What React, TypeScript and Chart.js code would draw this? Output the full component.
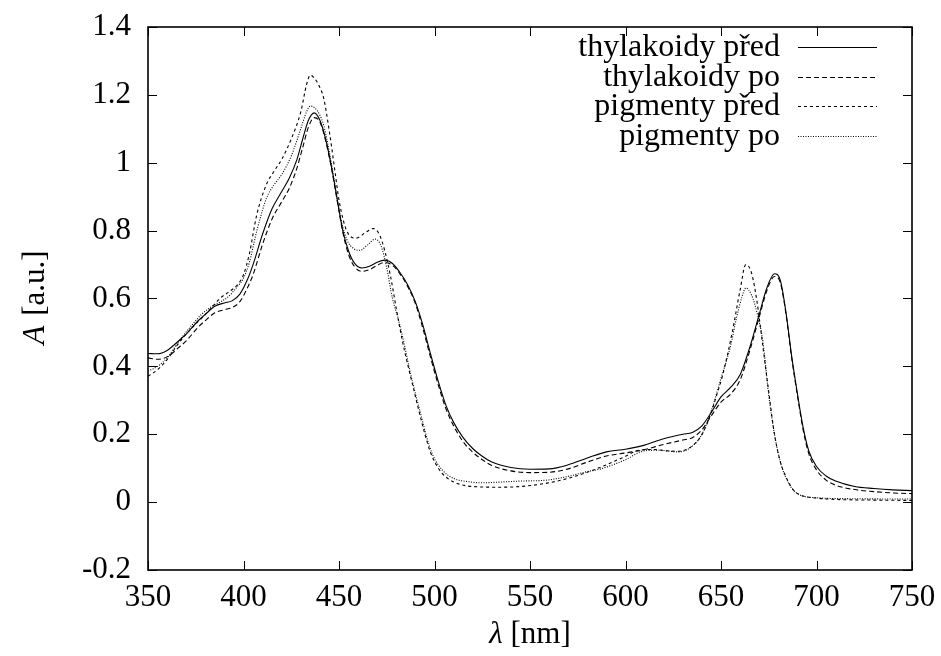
import React, { useEffect, useRef } from "react";
import { Chart, registerables } from "chart.js";

Chart.register(...registerables);

// ---- tick marks / labels ----
const xTickValues = [350, 400, 450, 500, 550, 600, 650, 700, 750];
const xTickLabels = ["350", "400", "450", "500", "550", "600", "650", "700", "750"];
const yTickValues = [-0.2, 0, 0.2, 0.4, 0.6, 0.8, 1, 1.2, 1.4];
const yTickLabels = ["-0.2", "0", "0.2", "0.4", "0.6", "0.8", "1", "1.2", "1.4"];

const xAxisTitleItalic = "λ";
const xAxisTitleRest = " [nm]";
const yAxisTitleItalic = "A";
const yAxisTitleRest = " [a.u.]";

// ---- series names ----
const seriesNames = ["thylakoidy před", "thylakoidy po", "pigmenty před", "pigmenty po"];

// ---- thylakoidy (shared wavelength grid) ----
const thylWavelengths = [
  350, 355, 360, 367, 370, 376, 380, 385, 390, 394, 398, 402, 405, 410, 415, 420, 424, 428, 431, 434,
  437, 440, 443, 446, 449, 452, 455, 458, 462, 466, 470, 474, 478, 482, 486, 490, 494, 498, 502, 506,
  510, 515, 520, 525, 530, 540, 550, 560, 570, 580, 590, 600, 610, 620, 630, 635, 640, 645, 650, 655,
  660, 665, 670, 674, 678, 681, 684, 687, 690, 693, 696, 700, 705, 710, 720, 730, 740, 750,
];
const thylPred = [
  0.438, 0.437, 0.447, 0.48, 0.495, 0.533, 0.553, 0.577, 0.587, 0.593, 0.612, 0.655, 0.7, 0.79, 0.865, 0.915, 0.955, 1.01, 1.07, 1.125,
  1.147, 1.125, 1.07, 0.99, 0.895, 0.8, 0.74, 0.705, 0.69, 0.695, 0.707, 0.713, 0.703, 0.676, 0.64, 0.59, 0.52, 0.435, 0.355, 0.285,
  0.235, 0.19, 0.158, 0.135, 0.118, 0.102, 0.097, 0.098, 0.11, 0.13, 0.148, 0.156, 0.168, 0.187, 0.2, 0.205, 0.225, 0.265, 0.31, 0.338,
  0.375, 0.455, 0.553, 0.631, 0.673, 0.655, 0.56, 0.43, 0.32, 0.22, 0.15, 0.105, 0.077, 0.062, 0.046, 0.04, 0.036, 0.034,
];
const thylPo = [
  0.425, 0.421, 0.428, 0.46, 0.475, 0.514, 0.535, 0.558, 0.567, 0.573, 0.59, 0.631, 0.67, 0.76, 0.835, 0.885, 0.925, 0.985, 1.045, 1.105,
  1.133, 1.12, 1.065, 0.985, 0.89, 0.795, 0.73, 0.695, 0.68, 0.685, 0.698, 0.706, 0.698, 0.672, 0.635, 0.585, 0.51, 0.425, 0.345, 0.275,
  0.225, 0.178, 0.147, 0.125, 0.108, 0.092, 0.087, 0.088, 0.098, 0.118, 0.136, 0.145, 0.155, 0.17, 0.183, 0.19, 0.213, 0.255, 0.295, 0.318,
  0.36, 0.445, 0.545, 0.623, 0.665, 0.648, 0.555, 0.425, 0.315, 0.213, 0.142, 0.095, 0.065, 0.05, 0.037, 0.031, 0.027, 0.025,
];

// ---- pigmenty před ----
const pigPredWavelengths = [
  350, 355, 360, 365, 369, 375, 380, 384, 388, 392, 397, 400, 403, 407, 412, 416, 420, 425, 430, 433,
  435, 437, 440, 442, 445, 448, 450, 454, 459, 464, 468, 471, 474, 477, 480, 483, 486, 489, 492, 495,
  498, 502, 506, 513, 520, 534, 545, 559, 570, 580, 587, 600, 607, 615, 622, 628, 634, 639, 643, 648,
  651, 656, 660, 663, 666, 669, 672, 675, 678, 681, 684, 688, 692, 700, 710, 730, 750,
];
const pigPred = [
  0.371, 0.39, 0.42, 0.46, 0.489, 0.525, 0.553, 0.578, 0.602, 0.618, 0.642, 0.67, 0.73, 0.848, 0.936, 0.975, 1.01, 1.07, 1.15, 1.23,
  1.258, 1.25, 1.222, 1.19, 1.09, 0.97, 0.89, 0.8, 0.778, 0.795, 0.806, 0.79, 0.74, 0.665, 0.57, 0.48, 0.405, 0.335, 0.265, 0.2,
  0.145, 0.1, 0.074, 0.053, 0.046, 0.044, 0.046, 0.056, 0.07, 0.088, 0.103, 0.135, 0.153, 0.155, 0.151, 0.15, 0.162, 0.19, 0.235, 0.32,
  0.377, 0.504, 0.625, 0.7, 0.675, 0.585, 0.455, 0.325, 0.2, 0.12, 0.075, 0.035, 0.02, 0.012, 0.008, 0.006, 0.005,
];

// ---- pigmenty po ----
const pigPoWavelengths = [
  350, 355, 360, 367, 372, 378, 383, 388, 392, 396, 400, 403, 407, 412, 416, 420, 425, 430, 433, 435,
  437, 440, 442, 445, 448, 450, 454, 458, 461, 465, 469, 472, 475, 478, 481, 484, 487, 490, 493, 496,
  499, 504, 510, 518, 525, 534, 545, 559, 570, 580, 587, 600, 609, 617, 628, 635, 640, 645, 650, 655,
  658, 661, 663, 666, 669, 672, 675, 678, 681, 685, 690, 700, 720, 750,
];
const pigPo = [
  0.386, 0.4, 0.425, 0.48, 0.515, 0.553, 0.575, 0.59, 0.605, 0.63, 0.66, 0.705, 0.8, 0.895, 0.935, 0.965, 1.02, 1.1, 1.15, 1.167,
  1.163, 1.14, 1.11, 1.03, 0.93, 0.86, 0.775, 0.746, 0.742, 0.758, 0.775, 0.755, 0.69, 0.6, 0.54, 0.47, 0.39, 0.32, 0.255, 0.19,
  0.14, 0.095, 0.07, 0.06, 0.057, 0.059, 0.062, 0.065, 0.076, 0.09, 0.098, 0.125, 0.15, 0.153, 0.148, 0.165, 0.2, 0.27, 0.365, 0.46,
  0.54, 0.605, 0.631, 0.61, 0.555, 0.47, 0.315, 0.2, 0.12, 0.06, 0.025, 0.013, 0.01, 0.009,
];

const FONT_FAMILY = '"Liberation Serif", "Times New Roman", serif';
const TICK_FONT_SIZE = 31;
const TITLE_FONT_SIZE = 31;
const LEGEND_FONT_SIZE = 32;

const dashPatterns: number[][] = [[], [5, 3], [3, 3], [1, 1.5]];
const lineColors = ["#000000", "#000000", "#000000", "#000000"];

function toPoints(xs: number[], ys: number[]) {
  return xs.map((x, i) => ({ x, y: ys[i] }));
}

const framePlugin = {
  id: "gnuplotFrame",
  afterDatasetsDraw(chart: any) {
    const { ctx, chartArea: a, scales } = chart;
    ctx.save();
    ctx.setLineDash([]);
    ctx.strokeStyle = "#000";
    // tick marks (inward, mirrored)
    const tl = 9;
    ctx.lineWidth = 1;
    ctx.beginPath();
    xTickValues.forEach((v) => {
      const px = Math.round(scales.x.getPixelForValue(v)) + 0.5;
      ctx.moveTo(px, a.bottom);
      ctx.lineTo(px, a.bottom - tl);
      ctx.moveTo(px, a.top);
      ctx.lineTo(px, a.top + tl);
    });
    yTickValues.forEach((v) => {
      const py = Math.round(scales.y.getPixelForValue(v)) + 0.5;
      ctx.moveTo(a.left, py);
      ctx.lineTo(a.left + tl, py);
      ctx.moveTo(a.right, py);
      ctx.lineTo(a.right - tl, py);
    });
    ctx.stroke();
    // frame
    ctx.lineWidth = 1.6;
    ctx.strokeRect(a.left, a.top, a.right - a.left, a.bottom - a.top);

    // legend
    const textRight = a.right - 132;
    const lineStart = a.right - 114;
    const lineEnd = a.right - 35;
    ctx.font = `${LEGEND_FONT_SIZE}px ${FONT_FAMILY}`;
    ctx.fillStyle = "#000";
    ctx.textAlign = "right";
    ctx.textBaseline = "middle";
    chart.data.datasets.forEach((ds: any, i: number) => {
      const y = a.top + 20 + i * 29.5;
      ctx.fillText(ds.label, textRight, y + 1);
      ctx.save();
      ctx.strokeStyle = ds.borderColor;
      ctx.lineWidth = ds.borderWidth;
      ctx.setLineDash(ds.borderDash || []);
      ctx.beginPath();
      ctx.moveTo(lineStart, Math.round(y) + 0.5);
      ctx.lineTo(lineEnd, Math.round(y) + 0.5);
      ctx.stroke();
      ctx.restore();
    });

    // axis titles
    const italic = `italic ${TITLE_FONT_SIZE}px ${FONT_FAMILY}`;
    const normal = `${TITLE_FONT_SIZE}px ${FONT_FAMILY}`;
    ctx.textAlign = "left";
    ctx.textBaseline = "middle";
    // x title
    ctx.font = italic;
    const wxi = ctx.measureText(xAxisTitleItalic).width;
    ctx.font = normal;
    const wxr = ctx.measureText(xAxisTitleRest).width;
    const cx = (a.left + a.right) / 2;
    const xStart = cx - (wxi + wxr) / 2;
    ctx.font = italic;
    ctx.fillText(xAxisTitleItalic, xStart, 635);
    ctx.font = normal;
    ctx.fillText(xAxisTitleRest, xStart + wxi, 635);
    // y title
    ctx.save();
    ctx.translate(36, (a.top + a.bottom) / 2);
    ctx.rotate(-Math.PI / 2);
    ctx.font = italic;
    const wyi = ctx.measureText(yAxisTitleItalic).width;
    ctx.font = normal;
    const wyr = ctx.measureText(yAxisTitleRest).width;
    const yStart = -(wyi + wyr) / 2;
    ctx.font = italic;
    ctx.fillText(yAxisTitleItalic, yStart, 0);
    ctx.font = normal;
    ctx.fillText(yAxisTitleRest, yStart + wyi + 2, 0);
    ctx.restore();

    ctx.restore();
  },
};

export default function App() {
  const canvasRef = useRef<HTMLCanvasElement | null>(null);

  useEffect(() => {
    const canvas = canvasRef.current;
    if (!canvas) return;
    const seriesX = [thylWavelengths, thylWavelengths, pigPredWavelengths, pigPoWavelengths];
    const seriesY = [thylPred, thylPo, pigPred, pigPo];
    const datasets = seriesNames.map((name, i) => ({
      label: name,
      data: toPoints(seriesX[i], seriesY[i]),
      borderColor: lineColors[i],
      borderWidth: 1.1,
      borderDash: dashPatterns[i],
      pointRadius: 0,
      fill: false,
      cubicInterpolationMode: "monotone" as const,
    }));

    const chart = new Chart(canvas, {
      type: "line",
      data: { datasets },
      options: {
        animation: false,
        responsive: false,
        maintainAspectRatio: false,
        layout: { padding: { top: 27, right: 29, left: 0, bottom: 0 } },
        plugins: {
          legend: { display: false },
          tooltip: { enabled: false },
        },
        scales: {
          x: {
            type: "linear",
            min: 350,
            max: 750,
            grid: { display: false, drawTicks: false },
            border: { display: false },
            afterFit: (scale: any) => {
              scale.height = 86;
              scale.paddingLeft = 0;
              scale.paddingRight = 0;
            },
            afterBuildTicks: (axis: any) => {
              axis.ticks = xTickValues.map((v) => ({ value: v }));
            },
            ticks: {
              padding: 9,
              color: "#000",
              maxRotation: 0,
              autoSkip: false,
              font: { family: FONT_FAMILY, size: TICK_FONT_SIZE },
              callback: (v: any) => {
                const idx = xTickValues.indexOf(Number(v));
                return idx >= 0 ? xTickLabels[idx] : "";
              },
            },
          },
          y: {
            type: "linear",
            min: -0.2,
            max: 1.4,
            grid: { display: false, drawTicks: false },
            border: { display: false },
            afterFit: (scale: any) => {
              scale.width = 148;
              scale.paddingTop = 0;
              scale.paddingBottom = 0;
            },
            afterBuildTicks: (axis: any) => {
              axis.ticks = yTickValues.map((v) => ({ value: v }));
            },
            ticks: {
              padding: 17,
              color: "#000",
              autoSkip: false,
              font: { family: FONT_FAMILY, size: TICK_FONT_SIZE },
              callback: (v: any) => {
                const idx = yTickValues.findIndex((t) => Math.abs(t - Number(v)) < 1e-9);
                return idx >= 0 ? yTickLabels[idx] : "";
              },
            },
          },
        },
      },
      plugins: [framePlugin],
    });

    return () => {
      chart.destroy();
    };
  }, []);

  return (
    <div style={{ position: "absolute", left: 0, top: 0, width: 941, height: 656, background: "#fff" }}>
      <canvas ref={canvasRef} width={941} height={656} style={{ display: "block", width: 941, height: 656 }} />
    </div>
  );
}
